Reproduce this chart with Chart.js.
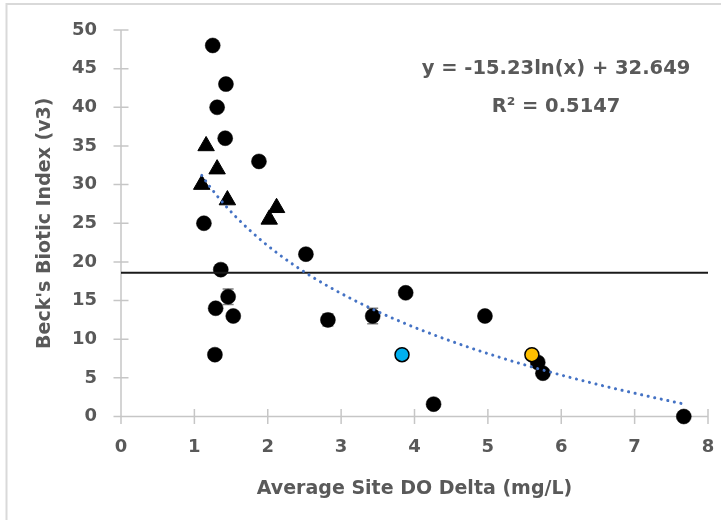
<!DOCTYPE html>
<html>
<head>
<meta charset="utf-8">
<script src="https://cdn.jsdelivr.net/npm/chart.js@4.4.1/dist/chart.umd.min.js"></script>
<style>
  html, body { margin: 0; padding: 0; background: #fff; }
  canvas { display: block; }
</style>
</head>
<body>
<canvas id="chart" width="721" height="520"></canvas>
<script>
// site averages (black circles)
var circleX = [1.25, 1.43, 1.31, 1.42, 1.88, 1.13, 2.52, 1.36, 1.46, 1.29, 1.53, 1.28, 2.82, 3.43, 3.88, 4.26, 4.96, 5.68, 5.75, 7.67];
var circleY = [48, 43, 40, 36, 33, 25, 21, 19, 15.5, 14, 13, 8, 12.5, 13, 16, 1.6, 13, 7, 5.6, 0];
// triangle sites
var triX = [1.16, 1.31, 1.10, 1.45, 2.12, 2.02];
var triY = [35, 32, 30, 28, 27, 25.5];
// highlighted sites
var blueX = [3.83], blueY = [8];
var yellowX = [5.60], yellowY = [8];
// error bars (x, y, +/-)
var errX = [1.46, 2.82, 3.43];
var errY = [15.5, 12.5, 13];
var errAmt = [1.0, 0.8, 1.0];
// reference line and log trendline y = a ln(x) + b
var refLineY = 18.6;
var trendA = -15.23, trendB = 32.649;
var eqText = ['y = -15.23ln(x) + 32.649', 'R\u00b2 = 0.5147'];
var xTicks = [0, 1, 2, 3, 4, 5, 6, 7, 8];
var yTicks = [0, 5, 10, 15, 20, 25, 30, 35, 40, 45, 50];

var FONT = "'DejaVu Sans', sans-serif";
var GREY = '#595959';

function pts(xs, ys) {
    var out = [];
    for (var i = 0; i < xs.length; i++) out.push({x: xs[i], y: ys[i]});
    return out;
}

var allX = circleX.concat(triX, blueX, yellowX);
var xMin = Math.min.apply(null, allX), xMax = Math.max.apply(null, allX);
var trendPts = [];
for (var i = 0; i <= 60; i++) {
    var xv = xMin + (xMax - xMin) * i / 60;
    trendPts.push({x: xv, y: trendA * Math.log(xv) + trendB});
}

var decor = {
    id: 'decor',
    beforeDraw: function(chart) {
        var ctx = chart.ctx;
        ctx.save();
        ctx.fillStyle = '#fff';
        ctx.fillRect(0, 0, chart.width, chart.height);
        ctx.strokeStyle = '#d9d9d9';
        ctx.lineWidth = 2;
        ctx.beginPath();
        ctx.moveTo(6.5, chart.height);
        ctx.lineTo(6.5, 4);
        ctx.lineTo(chart.width, 4);
        ctx.stroke();
        ctx.restore();
    },
    beforeDatasetsDraw: function(chart) {
        var ctx = chart.ctx, xs = chart.scales.x, ys = chart.scales.y;
        var x0 = xs.getPixelForValue(0), y0 = ys.getPixelForValue(0);
        var tl = 7.5;
        ctx.save();
        ctx.strokeStyle = '#c6c6c6';
        ctx.lineWidth = 1.5;
        ctx.beginPath();
        ctx.moveTo(x0 - tl, y0);
        ctx.lineTo(xs.getPixelForValue(8), y0);
        ctx.moveTo(x0, ys.getPixelForValue(50));
        ctx.lineTo(x0, y0 + tl);
        xTicks.forEach(function(v) {
            var p = xs.getPixelForValue(v);
            ctx.moveTo(p, y0 - tl);
            ctx.lineTo(p, y0 + tl);
        });
        yTicks.forEach(function(v) {
            var p = ys.getPixelForValue(v);
            ctx.moveTo(x0 - tl, p);
            ctx.lineTo(x0 + tl, p);
        });
        ctx.stroke();
        // error bars
        ctx.strokeStyle = '#808080';
        ctx.lineWidth = 1.5;
        ctx.beginPath();
        for (var i = 0; i < errX.length; i++) {
            var px = xs.getPixelForValue(errX[i]);
            var top = ys.getPixelForValue(errY[i] + errAmt[i]);
            var bot = ys.getPixelForValue(errY[i] - errAmt[i]);
            ctx.moveTo(px, top); ctx.lineTo(px, bot);
            ctx.moveTo(px - 5.5, top); ctx.lineTo(px + 5.5, top);
            ctx.moveTo(px - 5.5, bot); ctx.lineTo(px + 5.5, bot);
        }
        ctx.stroke();
        ctx.restore();
    },
    afterDraw: function(chart) {
        var ctx = chart.ctx;
        ctx.save();
        ctx.fillStyle = GREY;
        ctx.font = 'bold 19.5px ' + FONT;
        ctx.textAlign = 'center';
        ctx.textBaseline = 'alphabetic';
        ctx.fillText(eqText[0], 556, 74);
        ctx.fillText(eqText[1], 556, 112);
        ctx.restore();
    }
};

var chart = new Chart(document.getElementById('chart').getContext('2d'), {
    type: 'scatter',
    data: {
        datasets: [
            {
                label: 'trend',
                data: trendPts,
                showLine: true,
                pointRadius: 0,
                borderColor: '#4472C4',
                borderWidth: 3,
                borderDash: [0.1, 6.6],
                borderCapStyle: 'round',
                clip: false
            },
            {
                label: 'reference',
                data: [{x: 0, y: refLineY}, {x: 8, y: refLineY}],
                showLine: true,
                pointRadius: 0,
                borderColor: '#1a1a1a',
                borderWidth: 2,
                clip: false
            },
            {
                label: 'yellow',
                data: pts(yellowX, yellowY),
                pointRadius: 7,
                backgroundColor: '#FFC000',
                borderColor: '#000',
                borderWidth: 1.5,
                clip: false
            },
            {
                label: 'blue',
                data: pts(blueX, blueY),
                pointRadius: 7,
                backgroundColor: '#00B0F0',
                borderColor: '#000',
                borderWidth: 1.5,
                clip: false
            },
            {
                label: 'triangles',
                data: pts(triX, triY),
                pointStyle: 'triangle',
                pointRadius: 9.5,
                backgroundColor: '#000',
                borderColor: '#000',
                borderWidth: 1,
                clip: false
            },
            {
                label: 'circles',
                data: pts(circleX, circleY),
                pointRadius: 7.5,
                backgroundColor: '#000',
                borderColor: '#000',
                borderWidth: 0.5,
                clip: false
            }
        ]
    },
    options: {
        responsive: false,
        animation: false,
        events: [],
        layout: { padding: { left: 0, top: 30, right: 13, bottom: 0 } },
        plugins: { legend: { display: false }, tooltip: { enabled: false } },
        scales: {
            x: {
                type: 'linear',
                min: 0, max: 8,
                afterFit: function(s) { s.height = 103.5; s.paddingLeft = 0; s.paddingRight = 0; },
                afterBuildTicks: function(s) { s.ticks = xTicks.map(function(v) { return {value: v}; }); },
                grid: { display: false, drawTicks: false },
                border: { display: false },
                ticks: { color: GREY, padding: 20, font: { family: FONT, size: 18, weight: 'bold' } },
                title: {
                    display: true,
                    text: 'Average Site DO Delta (mg/L)',
                    color: GREY,
                    padding: { top: 0, bottom: 20 },
                    font: { family: FONT, size: 19, weight: 'bold' }
                }
            },
            y: {
                type: 'linear',
                min: 0, max: 50,
                afterFit: function(s) { s.width = 121; s.paddingTop = 0; s.paddingBottom = 0; },
                afterBuildTicks: function(s) { s.ticks = yTicks.map(function(v) { return {value: v}; }); },
                grid: { display: false, drawTicks: false },
                border: { display: false },
                ticks: { color: GREY, padding: 24, font: { family: FONT, size: 18, weight: 'bold' } },
                title: {
                    display: true,
                    text: "Beck's Biotic Index (v3)",
                    color: GREY,
                    padding: { top: 34, bottom: 0 },
                    font: { family: FONT, size: 19, weight: 'bold' }
                }
            }
        }
    },
    plugins: [decor]
});
</script>
</body>
</html>
